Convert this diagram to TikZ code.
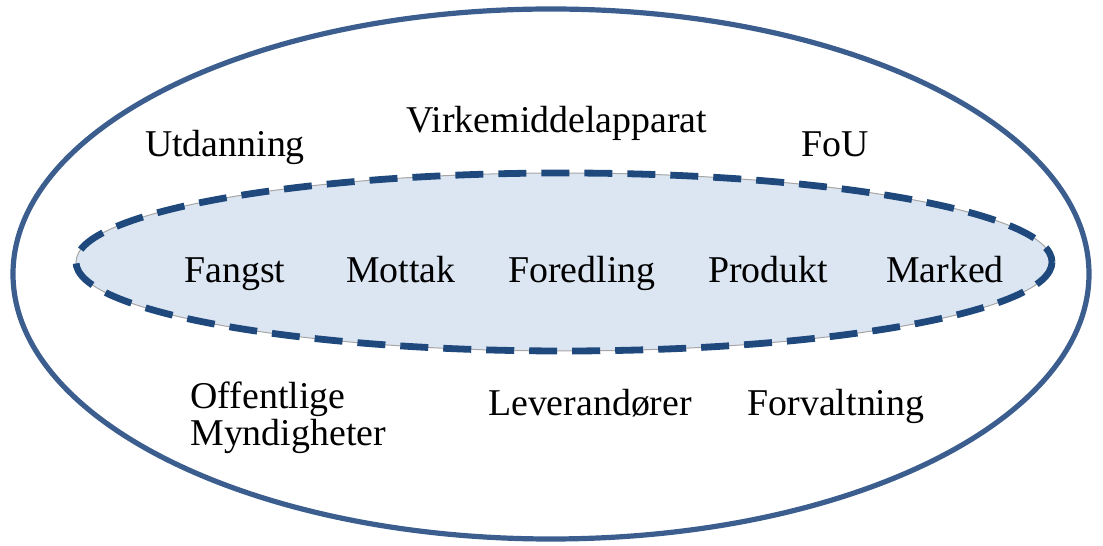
\documentclass[tikz,border=0pt]{standalone}
\usepackage{fontspec}
\setmainfont{Liberation Serif}
\usetikzlibrary{positioning}

\definecolor{rimblue}{RGB}{59,94,143}
\definecolor{dashblue}{RGB}{31,73,125}
\definecolor{chainfill}{RGB}{220,230,242}

\begin{document}
\begin{tikzpicture}[x=0.5bp,y=-0.5bp,
  lbl/.style={inner sep=0pt,anchor=base,font=\fontsize{19}{19}\selectfont},
  rim/.style={draw=rimblue,line width=2.6bp},
  chain/.style={draw=dashblue,line width=3.4bp,dash pattern=on 14bp off 7.5bp},
]
\useasboundingbox (0,0) rectangle (1103,546);
%%
\coordinate (outer) at (551,274);
\coordinate (inner) at (564,262);
\draw [rim] (outer) ellipse [x radius=538, y radius=265];
\fill [chainfill] (inner) ellipse [x radius=488, y radius=89];
\draw [gray!70,line width=0.5bp] (inner) ellipse [x radius=488, y radius=89];
\draw [chain] (inner) ellipse [x radius=488, y radius=89];
%%
\node (utdanning) at (225,157) [lbl] {Utdanning};
\node (virkemiddel) at (557,133) [lbl] {Virkemiddelapparat};
\node (fou) at (835,157) [lbl] {FoU};
%
\node (fangst) at (235,283) [lbl] {Fangst};
\node (mottak) at (401,283) [lbl] {Mottak};
\node (foredling) at (582,283) [lbl] {Foredling};
\node (produkt) at (768,283) [lbl] {Produkt};
\node (marked) at (945,283) [lbl] {Marked};
%
\node (offentlige) at (190,409) [lbl,anchor=base west] {Offentlige};
\node (myndigheter) at (190,446) [lbl,anchor=base west] {Myndigheter};
\node (leverandorer) at (590,416) [lbl] {Leverandører};
\node (forvaltning) at (836,416) [lbl] {Forvaltning};
%
\end{tikzpicture}
\end{document}
